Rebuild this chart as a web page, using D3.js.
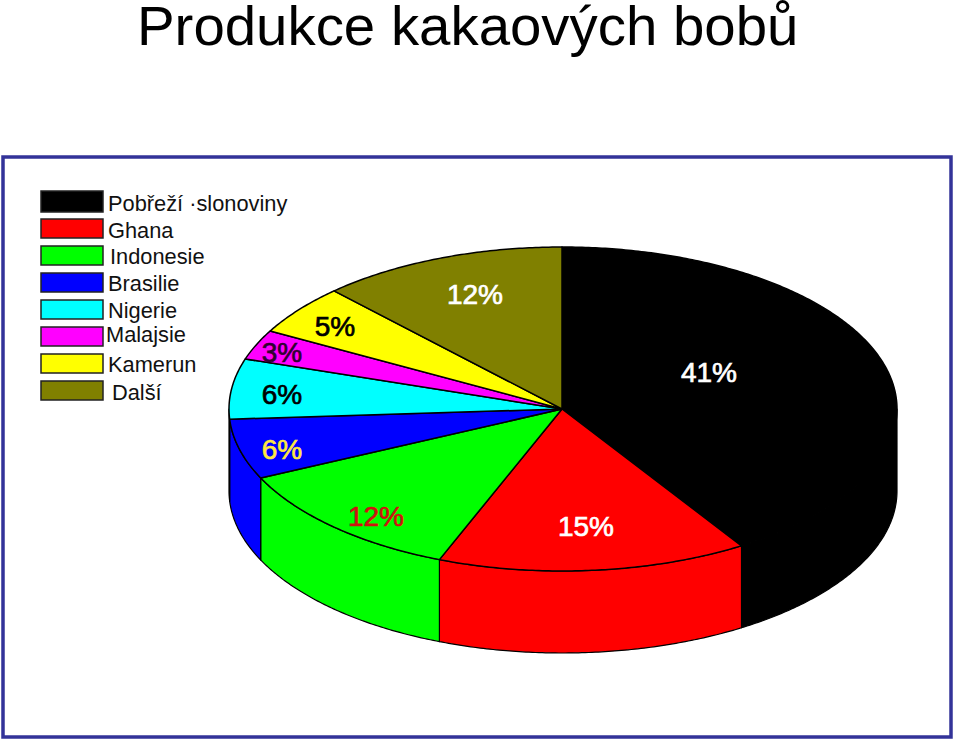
<!DOCTYPE html>
<html>
<head>
<meta charset="utf-8">
<script src="https://cdn.jsdelivr.net/npm/d3@7"></script>
<style>
  html, body { margin: 0; padding: 0; background: #fff; }
  svg { display: block; }
  text { font-family: "Liberation Sans", Arial, sans-serif; }
</style>
</head>
<body>
<svg id="chart"></svg>
<script>
const title = "Produkce kakaových bobů"
const countries = ["Pobřeží \u00b7slonoviny", "Ghana", "Indonesie", "Brasilie", "Nigerie", "Malajsie", "Kamerun", "Další"]
const shares = [41, 15, 12, 6, 6, 3, 5, 12]
const sliceColors = ["#000000", "#ff0000", "#00ff00", "#0000ff", "#00ffff", "#ff00ff", "#ffff00", "#808000"]
const labelColors = ["#ffffff", "#ffffff", "#d01010", "#ffe840", "#000000", "#300030", "#000000", "#ffffff"]

const width = 960, height = 742
// the pie is flattened, and the left side is a touch narrower than the right
const cx = 562, cy = 409, left = 229, right = 897, ry = 162, depth = 82

// hand placed like in the original slide
const legendX = [108, 108, 110, 108, 108, 106, 108, 112]
const legendY = [211, 238, 264, 291, 318, 342, 372, 400]
const swatchY = [191, 219, 246, 273, 300, 327, 354, 381]
const labelX = [709, 586, 376, 282, 282, 282, 335, 475]
const labelY = [382, 536, 526, 459, 404, 362, 336, 304]

const svg = d3.select("#chart")
    .attr("width", width)
    .attr("height", height)

svg.append("rect")
    .attr("width", width)
    .attr("height", height)
    .attr("fill", "#fff")

svg.append("text")
    .attr("x", 137)
    .attr("y", 45)
    .attr("font-size", 56.4)
    .attr("fill", "#000")
    .text(title)

svg.append("rect")
    .attr("x", 3)
    .attr("y", 157)
    .attr("width", 948)
    .attr("height", 580)
    .attr("fill", "#fff")
    .attr("stroke", "#333399")
    .attr("stroke-width", 3.5)

// pie layout, clockwise from north
const pie = d3.pie().sort(null)
const slices = pie(shares)

const xScale = d3.scaleLinear().domain([-1, 0, 1]).range([left, cx, right])
const yScale = d3.scaleLinear().domain([-1, 1]).range([cy - ry, cy + ry])

function rim(a0, a1, drop) {
    const n = Math.max(2, Math.ceil(Math.abs(a1 - a0) / 0.01))
    return d3.range(n + 1).map(i => {
        const a = a0 + (a1 - a0) * i / n
        return [xScale(Math.sin(a)), yScale(-Math.cos(a)) + drop]
    })
}

const line = d3.line()

// side walls, only the front half can be seen
const walls = slices
    .map((d, i) => ({
        i: i,
        a0: Math.max(d.startAngle, Math.PI / 2),
        a1: Math.min(d.endAngle, Math.PI * 3 / 2)
    }))
    .filter(d => d.a1 > d.a0)

svg.append("g").selectAll("path")
    .data(walls)
    .join("path")
        .attr("d", d => line(rim(d.a0, d.a1, 0).concat(rim(d.a1, d.a0, depth))) + "Z")
        .attr("fill", d => sliceColors[d.i])
        .attr("stroke", "#000")
        .attr("stroke-width", 1.2)
        .attr("stroke-linejoin", "round")

// top of the pie
svg.append("g").selectAll("path")
    .data(slices)
    .join("path")
        .attr("d", d => line([[cx, cy]].concat(rim(d.startAngle, d.endAngle, 0))) + "Z")
        .attr("fill", (d, i) => sliceColors[i])
        .attr("stroke", "#000")
        .attr("stroke-width", 1.5)
        .attr("stroke-linejoin", "round")

svg.append("g").selectAll("text")
    .data(slices)
    .join("text")
        .attr("x", (d, i) => labelX[i])
        .attr("y", (d, i) => labelY[i])
        .attr("text-anchor", "middle")
        .attr("font-size", 28)
        .attr("fill", (d, i) => labelColors[i])
        .attr("stroke", (d, i) => labelColors[i])
        .attr("stroke-width", 0.7)
        .text(d => d.data + "%")

// legend
const legend = svg.append("g")

legend.selectAll("rect")
    .data(countries)
    .join("rect")
        .attr("x", 41)
        .attr("y", (d, i) => swatchY[i])
        .attr("width", 62)
        .attr("height", (d, i) => i == 0 ? 21 : 19)
        .attr("fill", (d, i) => sliceColors[i])
        .attr("stroke", "#222")
        .attr("stroke-width", 1.5)

legend.selectAll("text")
    .data(countries)
    .join("text")
        .attr("x", (d, i) => legendX[i])
        .attr("y", (d, i) => legendY[i])
        .attr("font-size", 21.8)
        .attr("fill", "#111")
        .text(d => d)
</script>
</body>
</html>
